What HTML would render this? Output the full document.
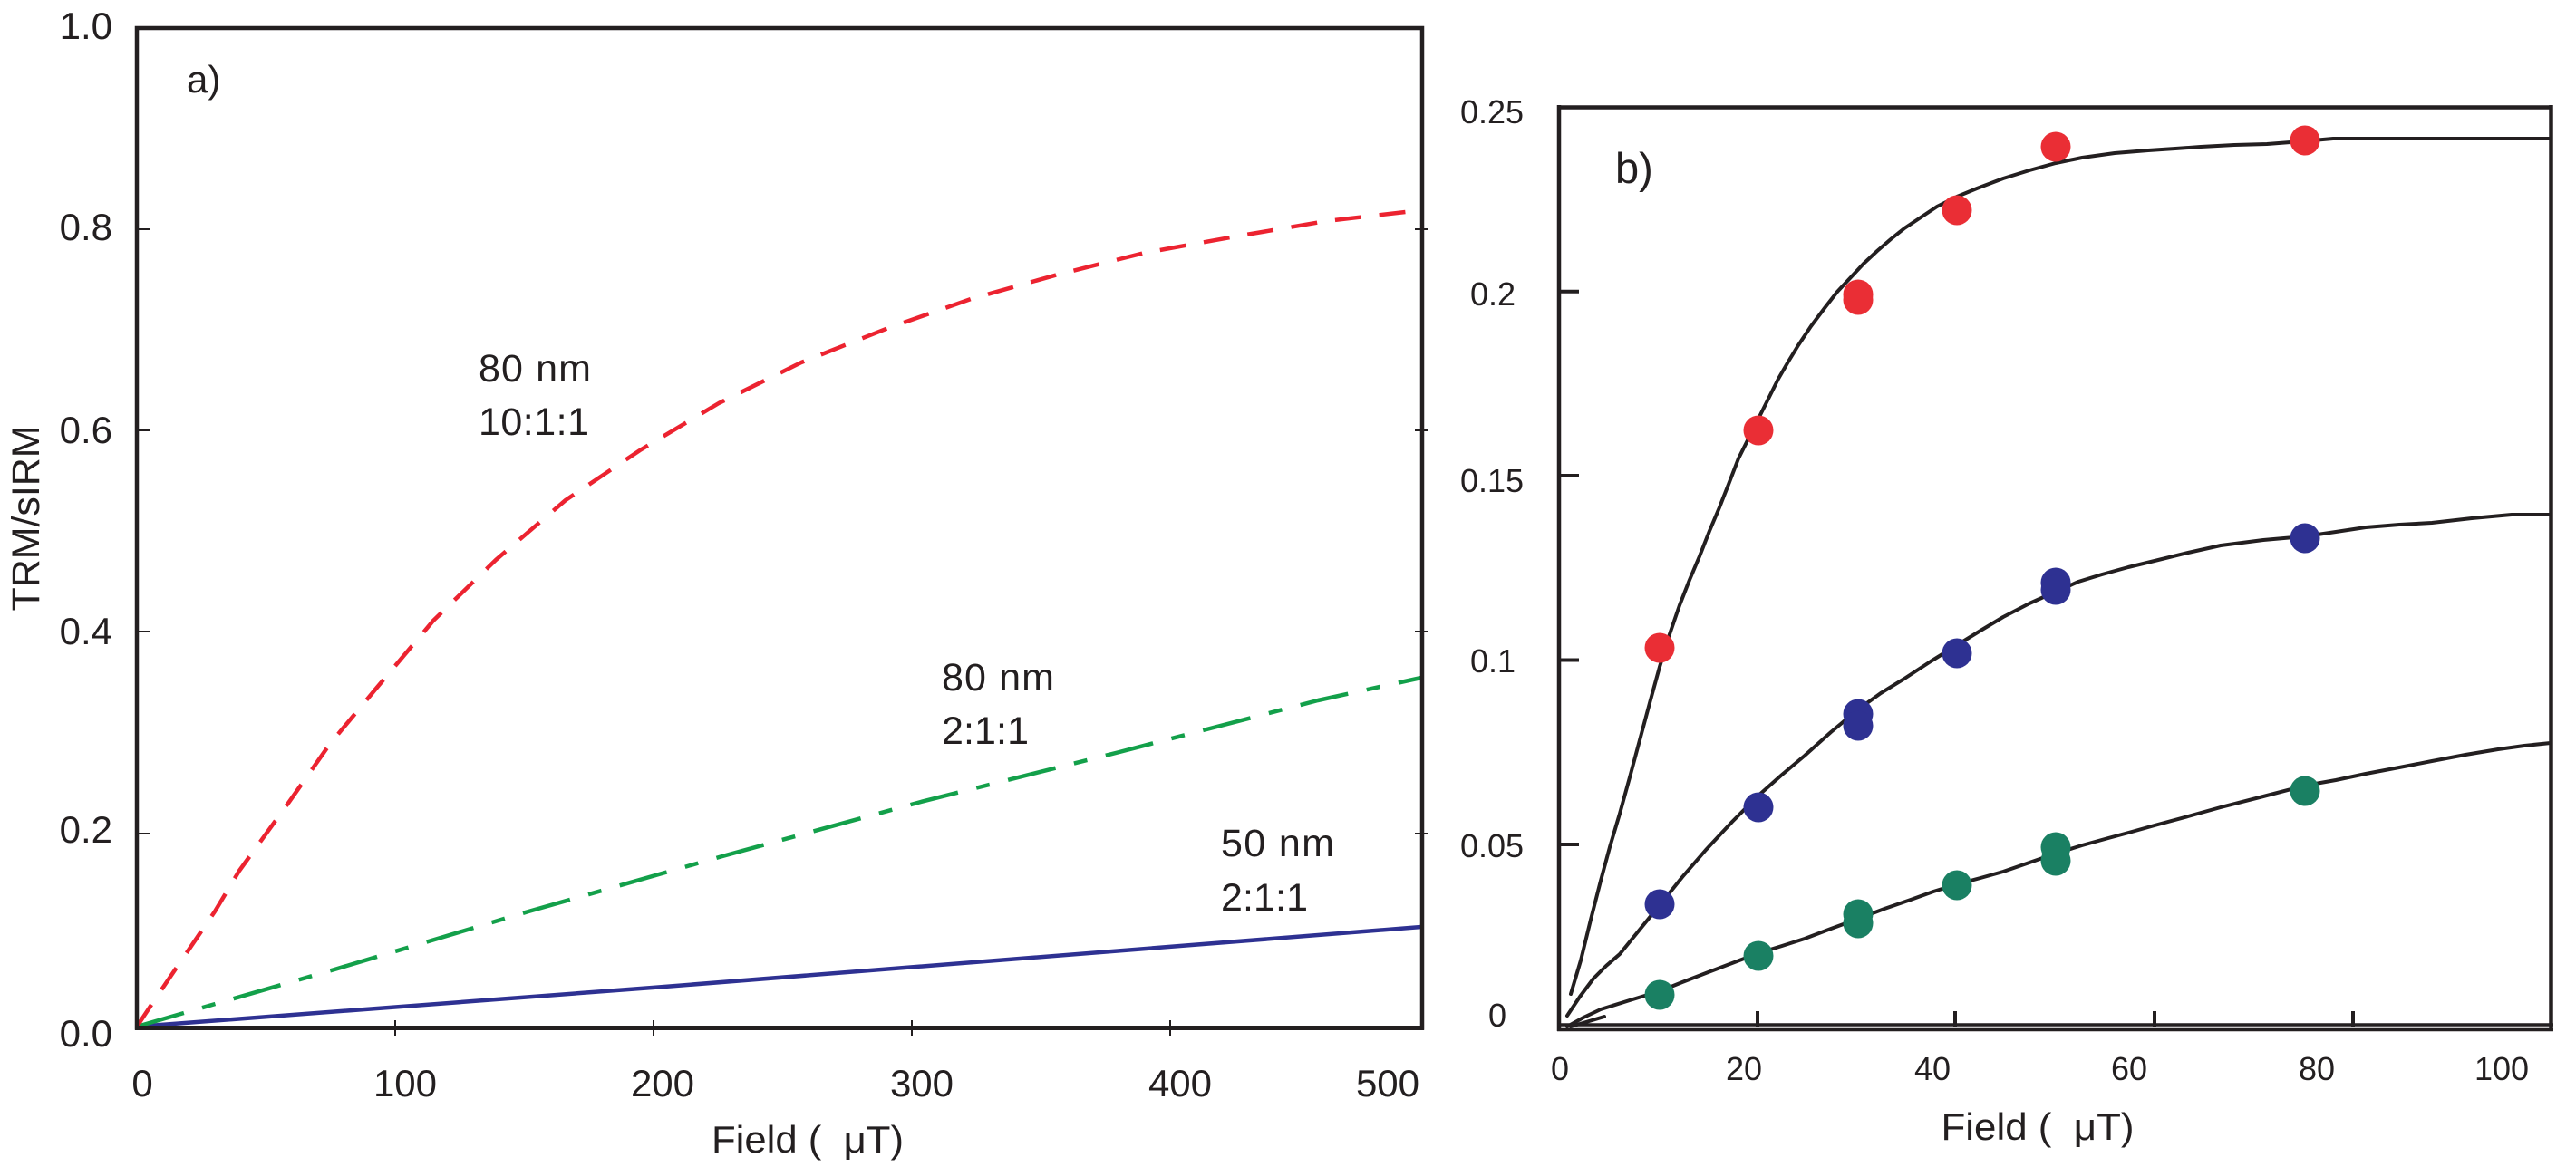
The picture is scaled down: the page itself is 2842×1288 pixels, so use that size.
<!DOCTYPE html>
<html>
<head>
<meta charset="utf-8">
<style>
  html, body { margin: 0; padding: 0; background: #ffffff; }
  body { width: 2842px; height: 1288px; overflow: hidden; }
  svg { display: block; }
  text { font-family: "Liberation Sans", "DejaVu Sans", sans-serif; fill: #231F20; }
</style>
</head>
<body>
<svg width="2842" height="1288" viewBox="0 0 2842 1288" xmlns="http://www.w3.org/2000/svg">
  <rect x="0" y="0" width="2842" height="1288" fill="#ffffff"/>

  <!-- ================= LEFT PANEL (a) ================= -->
  <!-- curves -->
  <polyline fill="none" stroke="#2E3192" stroke-width="4.5" stroke-linejoin="round"
    points="151,1133 720,1090 1568,1023"/>
  <polyline fill="none" stroke="#13A04A" stroke-width="4.5" stroke-linejoin="round"
    stroke-dasharray="54 21 15 21"
    points="151,1133 369,1070 583,1006 797,945 1016,885 1235,830 1454,773 1568,748"/>
  <polyline fill="none" stroke="#EC2330" stroke-width="4.5" stroke-linejoin="round"
    stroke-dasharray="29 20"
    points="151,1133 177,1094 237,1006 264,961 319,885 364,821 414,761 478,685 547,618 624,552 706,497 793,445 884,400 980,362 1071,330 1167,303 1263,279 1363,261 1463,244 1568,232"/>

  <!-- frame -->
  <rect x="151" y="31" width="1418" height="1103.5" fill="none" stroke="#231F20" stroke-width="4.5"/>
  <line x1="149" y1="1134.5" x2="1571" y2="1134.5" stroke="#231F20" stroke-width="5"/>

  <!-- y ticks left & right -->
  <g stroke="#231F20" stroke-width="2">
    <line x1="151" y1="253" x2="166" y2="253"/>
    <line x1="151" y1="475" x2="166" y2="475"/>
    <line x1="151" y1="697" x2="166" y2="697"/>
    <line x1="151" y1="920" x2="166" y2="920"/>
    <line x1="1561" y1="253" x2="1576" y2="253"/>
    <line x1="1561" y1="475" x2="1576" y2="475"/>
    <line x1="1561" y1="697" x2="1576" y2="697"/>
    <line x1="1561" y1="920" x2="1576" y2="920"/>
    <!-- x ticks -->
    <line x1="436" y1="1126" x2="436" y2="1143"/>
    <line x1="721" y1="1126" x2="721" y2="1143"/>
    <line x1="1006" y1="1126" x2="1006" y2="1143"/>
    <line x1="1291" y1="1126" x2="1291" y2="1143"/>
  </g>

  <!-- y tick labels -->
  <g font-size="42" text-anchor="end">
    <text x="124" y="43">1.0</text>
    <text x="124" y="265">0.8</text>
    <text x="124" y="489">0.6</text>
    <text x="124" y="711">0.4</text>
    <text x="124" y="930">0.2</text>
    <text x="124" y="1155">0.0</text>
  </g>
  <!-- x tick labels -->
  <g font-size="42" text-anchor="middle">
    <text x="157" y="1210">0</text>
    <text x="447" y="1210">100</text>
    <text x="731" y="1210">200</text>
    <text x="1017" y="1210">300</text>
    <text x="1302" y="1210">400</text>
    <text x="1531" y="1210">500</text>
  </g>

  <!-- axis titles -->
  <text x="891" y="1272" font-size="42" text-anchor="middle" textLength="212" lengthAdjust="spacingAndGlyphs">Field (&#160; μT)</text>
  <text transform="translate(43,572) rotate(-90)" font-size="43" text-anchor="middle" textLength="205" lengthAdjust="spacingAndGlyphs">TRM/sIRM</text>

  <!-- panel label & annotations -->
  <text x="206" y="102" font-size="42">a)</text>
  <g font-size="43">
    <text x="528" y="421" textLength="124" lengthAdjust="spacing">80 nm</text>
    <text x="528" y="480" textLength="122" lengthAdjust="spacing">10:1:1</text>
    <text x="1039" y="762" textLength="124" lengthAdjust="spacing">80 nm</text>
    <text x="1039" y="821" textLength="96" lengthAdjust="spacing">2:1:1</text>
    <text x="1347" y="945" textLength="125" lengthAdjust="spacing">50 nm</text>
    <text x="1347" y="1005" textLength="96" lengthAdjust="spacing">2:1:1</text>
  </g>

  <!-- ================= RIGHT PANEL (b) ================= -->
  <!-- black fit curves -->
  <g fill="none" stroke="#231F20" stroke-width="4" stroke-linejoin="round" stroke-linecap="round">
    <polyline points="1733,1097 1744,1060 1755,1015 1766,972 1776,935 1787,898 1798,858 1809,817 1820,776 1831,736 1842,700 1853,668 1864,640 1875,614 1886,586 1897,560 1908,532 1918,506 1929,484 1940,462 1951,440 1962,418 1973,399 1984,381 1998,360 2013,340 2027,322 2042,306 2056,291 2071,277 2086,264 2101,252 2119,240 2137,228 2159,217 2181,208 2210,197 2239,188 2268,180 2297,174 2333,169 2370,166 2400,164 2428,162 2465,160 2501,159 2540,156 2574,153 2700,153 2814,153"/>
    <polyline points="1729,1121 1743,1100 1758,1080 1772,1066 1787,1053 1809,1026 1831,999 1856,968 1882,938 1911,907 1940,878 1966,855 1991,834 2020,808 2050,783 2075,765 2101,749 2130,730 2159,712 2185,696 2210,681 2239,666 2268,653 2293,642 2319,634 2348,626 2377,619 2414,610 2450,602 2497,596 2543,592 2577,587 2610,582 2647,579 2683,577 2727,572 2771,568 2814,568"/>
    <polyline points="1729,1133 1747,1123 1766,1114 1798,1104 1831,1094 1856,1084 1882,1074 1911,1063 1940,1052 1966,1044 1991,1036 2020,1025 2050,1014 2079,1003 2108,993 2133,984 2159,976 2185,969 2210,962 2239,952 2268,942 2297,933 2326,925 2352,918 2377,911 2414,901 2450,891 2497,879 2543,867 2577,861 2610,854 2647,847 2683,840 2720,833 2756,827 2785,823 2814,820"/>
    <polyline points="1733,1133 1770,1122"/>
  </g>

  <!-- frame -->
  <g stroke="#231F20" fill="none">
    <line x1="1720" y1="116" x2="1720" y2="1138" stroke-width="4.5"/>
    <line x1="1718" y1="118.5" x2="2816.5" y2="118.5" stroke-width="4.5"/>
    <line x1="2814.5" y1="116" x2="2814.5" y2="1138" stroke-width="4.5"/>
    <line x1="1718" y1="1131" x2="2817" y2="1131" stroke-width="3.5"/>
    <line x1="1718" y1="1136.5" x2="2817" y2="1136.5" stroke-width="3.5"/>
  </g>
  <g stroke="#231F20" stroke-width="4">
    <line x1="1720" y1="321.7" x2="1742" y2="321.7"/>
    <line x1="1720" y1="525" x2="1742" y2="525"/>
    <line x1="1720" y1="728.5" x2="1742" y2="728.5"/>
    <line x1="1720" y1="932" x2="1742" y2="932"/>
    <line x1="1939" y1="1116" x2="1939" y2="1134"/>
    <line x1="2157" y1="1116" x2="2157" y2="1134"/>
    <line x1="2377" y1="1116" x2="2377" y2="1134"/>
    <line x1="2596" y1="1116" x2="2596" y2="1134"/>
  </g>

  <!-- data points -->
  <g fill="#EA2E35">
    <circle cx="1831" cy="715" r="16.5"/>
    <circle cx="1940" cy="475" r="16.5"/>
    <circle cx="2050" cy="325" r="16.5"/>
    <circle cx="2050" cy="331" r="16.5"/>
    <circle cx="2159" cy="232" r="16.5"/>
    <circle cx="2268" cy="162" r="16.5"/>
    <circle cx="2543" cy="155" r="16.5"/>
  </g>
  <g fill="#2E3192">
    <circle cx="1831" cy="998" r="16.5"/>
    <circle cx="1940" cy="891" r="16.5"/>
    <circle cx="2050" cy="788" r="16.5"/>
    <circle cx="2050" cy="801" r="16.5"/>
    <circle cx="2159" cy="721" r="16.5"/>
    <circle cx="2268" cy="643" r="16.5"/>
    <circle cx="2268" cy="651" r="16.5"/>
    <circle cx="2543" cy="594" r="16.5"/>
  </g>
  <g fill="#1A8063">
    <circle cx="1831" cy="1098" r="16.5"/>
    <circle cx="1940" cy="1055" r="16.5"/>
    <circle cx="2050" cy="1009" r="16.5"/>
    <circle cx="2050" cy="1019" r="16.5"/>
    <circle cx="2159" cy="977" r="16.5"/>
    <circle cx="2268" cy="935" r="16.5"/>
    <circle cx="2268" cy="950" r="16.5"/>
    <circle cx="2543" cy="873" r="16.5"/>
  </g>

  <!-- y tick labels -->
  <g font-size="36" text-anchor="middle">
    <text x="1646" y="136">0.25</text>
    <text x="1647" y="337">0.2</text>
    <text x="1646" y="543">0.15</text>
    <text x="1647" y="742">0.1</text>
    <text x="1646" y="946">0.05</text>
    <text x="1652" y="1133">0</text>
  </g>
  <!-- x tick labels -->
  <g font-size="36" text-anchor="middle">
    <text x="1721" y="1192">0</text>
    <text x="1924" y="1192">20</text>
    <text x="2132" y="1192">40</text>
    <text x="2349" y="1192">60</text>
    <text x="2556" y="1192">80</text>
    <text x="2760" y="1192">100</text>
  </g>

  <text x="2248" y="1258" font-size="42" text-anchor="middle" textLength="213" lengthAdjust="spacingAndGlyphs">Field (&#160; μT)</text>
  <text x="1782" y="202" font-size="47">b)</text>
</svg>
</body>
</html>
